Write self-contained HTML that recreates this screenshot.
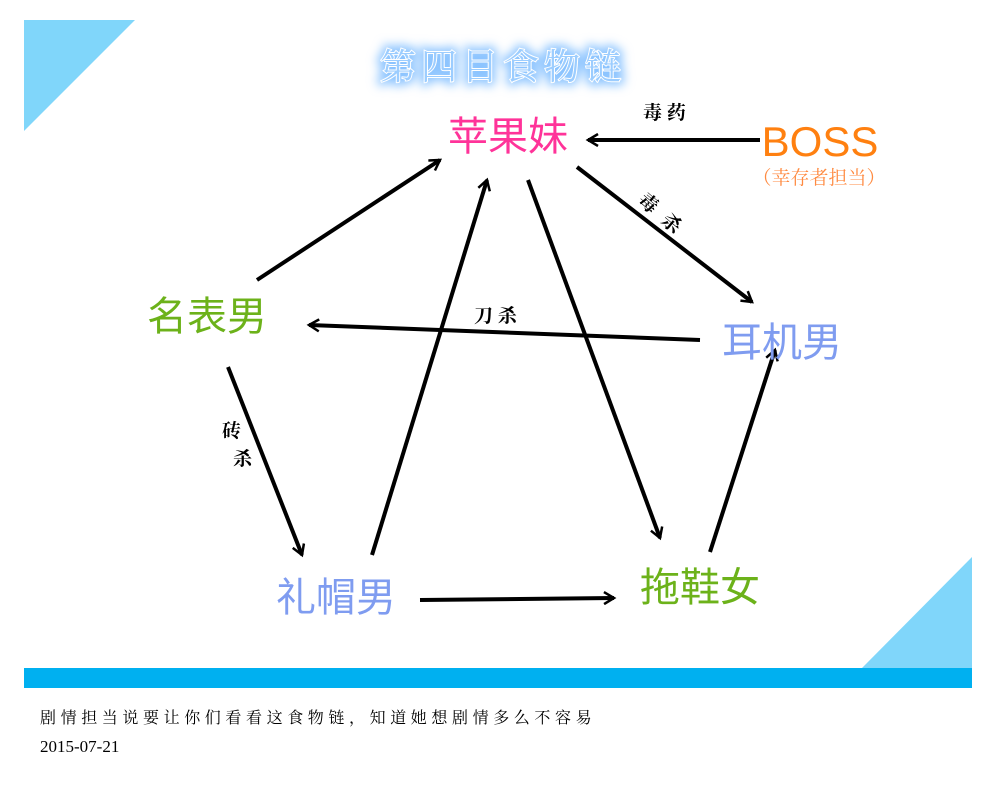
<!DOCTYPE html>
<html><head><meta charset="utf-8"><style>
body{margin:0;background:#fff;width:995px;height:793px;overflow:hidden}
svg text{font-family:"Liberation Sans","Noto Sans CJK SC",sans-serif}
</style></head><body>
<svg width="995" height="793" viewBox="0 0 995 793" xmlns="http://www.w3.org/2000/svg">
<defs>
<marker id="a" markerWidth="14" markerHeight="14" refX="11" refY="7" orient="auto" markerUnits="userSpaceOnUse">
<path d="M1,1 L11,7 L1,13" fill="none" stroke="#000" stroke-width="2.5"/>
</marker>
<filter id="g" x="-20%" y="-50%" width="140%" height="200%"><feGaussianBlur stdDeviation="5"/></filter>
</defs>
<polygon points="24,20 135,20 24,131" fill="#80d6fa"/>
<polygon points="972,557 972,668 862,668" fill="#80d6fa"/>
<rect x="24" y="668" width="948" height="20" fill="#00b0f0"/>
<g font-size="36" letter-spacing="5">
<text x="380" y="79" fill="#8cc4ff" stroke="#8cc4ff" stroke-width="8" filter="url(#g)" style="font-family:'Noto Serif CJK SC',serif">第四目食物链</text>
<text x="380" y="79" fill="#9ccdff" stroke="#fff" stroke-width="2" paint-order="stroke" style="font-family:'Noto Serif CJK SC',serif">第四目食物链</text>
</g>
<g stroke="#000" stroke-width="4" fill="none" marker-end="url(#a)">
<line x1="760" y1="140" x2="588" y2="140"/>
<line x1="577" y1="167" x2="752" y2="302"/>
<line x1="700" y1="340" x2="309" y2="325"/>
<line x1="257" y1="280" x2="440" y2="160"/>
<line x1="228" y1="367" x2="302" y2="555"/>
<line x1="372" y1="555" x2="487" y2="180"/>
<line x1="528" y1="180" x2="660" y2="538"/>
<line x1="420" y1="600" x2="614" y2="598"/>
<line x1="710" y1="552" x2="775" y2="350"/>
</g>
<g font-size="40" text-anchor="middle">
<text x="508" y="150" fill="#ff3399">苹果妹</text>
<text x="207" y="330" fill="#6cb21a">名表男</text>
<text x="782" y="356" fill="#7f9cf0">耳机男</text>
<text x="336" y="611" fill="#7f9cf0">礼帽男</text>
<text x="700" y="601" fill="#6cb21a">拖鞋女</text>
<text x="820" y="156" fill="#ff8010" font-size="42">BOSS</text>
</g>
<text x="819" y="184" font-size="19" fill="#ff8a40" text-anchor="middle" style="font-family:'Noto Serif CJK SC',serif">（幸存者担当）</text>
<g font-size="19" font-weight="bold" fill="#000">
<text x="643" y="119" style="font-family:'Noto Serif CJK SC',serif">毒 药</text>
<text x="474" y="322" style="font-family:'Noto Serif CJK SC',serif">刀 杀</text>
<text x="637" y="202" transform="rotate(40 637 202)" style="font-family:'Noto Serif CJK SC',serif">毒</text>
<text x="660" y="222" transform="rotate(40 660 222)" style="font-family:'Noto Serif CJK SC',serif">杀</text>
<text x="222" y="437" style="font-family:'Noto Serif CJK SC',serif">砖</text>
<text x="233" y="465" style="font-family:'Noto Serif CJK SC',serif">杀</text>
</g>
<text x="40" y="723" font-size="16" letter-spacing="4.6" fill="#000" style="font-family:'Noto Serif CJK SC',serif">剧情担当说要让你们看看这食物链，知道她想剧情多么不容易</text>
<text x="40" y="752" font-size="17" fill="#000" style="font-family:'Liberation Serif',serif">2015-07-21</text>
</svg>
</body></html>
